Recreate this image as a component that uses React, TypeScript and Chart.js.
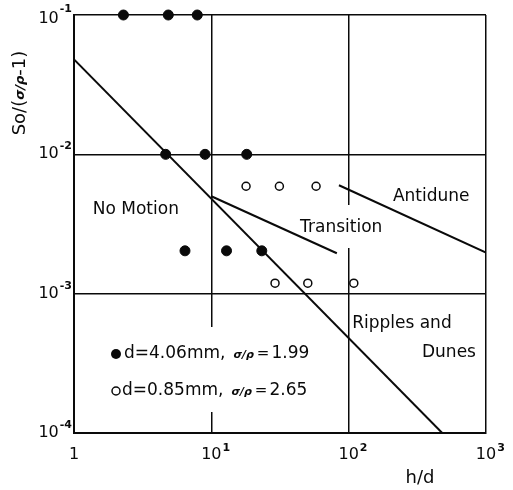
import React, { useEffect, useRef } from "react";
import { Chart, registerables } from "chart.js";

Chart.register(...registerables);

// ---- data ----
const filledX = [2.29, 4.86, 7.9, 4.65, 9.0, 18.1, 6.43, 12.9, 23.3];
const filledY = [0.1, 0.1, 0.1, 0.01, 0.01, 0.01, 0.00203, 0.00203, 0.00203];
const openX = [17.9, 31.3, 57.9, 29.1, 50.4, 109];
const openY = [0.0059, 0.0059, 0.0059, 0.00119, 0.00119, 0.00119];

const noMotionX = [1, 480];
const noMotionY = [0.048, 0.0001];
const transitionX = [10, 82];
const transitionY = [0.005, 0.00195];
const antiduneX = [85, 1000];
const antiduneY = [0.006, 0.00197];

const xTickValues = [1, 10, 100, 1000];
const xTickExps = ["", "1", "2", "3"];
const yTickValues = [0.0001, 0.001, 0.01, 0.1];
const yTickExps = ["-4", "-3", "-2", "-1"];

const regionLabels = ["No Motion", "Transition", "Antidune", "Ripples and", "Dunes"];
const regionLabelX = [1.37, 44.3, 210, 106, 342];
const regionLabelY = [0.004, 0.00296, 0.005, 0.000615, 0.000375];

const legendSeries = ["d=4.06mm,", "d=0.85mm,"];
const legendRatio = ["1.99", "2.65"];

const FONT = '"DejaVu Sans", sans-serif';
const INK = "#0a0a0a";

function pts(xs: number[], ys: number[]) {
  return xs.map((x, i) => ({ x, y: ys[i] }));
}

const paperPlugin = {
  id: "paper",
  beforeDraw(chart: any) {
    const ctx = chart.ctx;
    ctx.save();
    ctx.fillStyle = "#fff";
    ctx.fillRect(0, 0, chart.width, chart.height);
    ctx.restore();
  },
  beforeDatasetsDraw(chart: any) {
    const ctx = chart.ctx;
    const xs = chart.scales.x;
    ctx.save();
    ctx.fillStyle = "#fff";
    const x10 = xs.getPixelForValue(10);
    ctx.fillRect(x10 - 4, 327, 8, 85);
    const x100 = xs.getPixelForValue(100);
    ctx.fillRect(x100 - 4, 205, 8, 43);
    ctx.restore();
  },
  afterDatasetsDraw(chart: any) {
    const ctx = chart.ctx;
    const xs = chart.scales.x;
    const ys = chart.scales.y;
    const area = chart.chartArea;
    ctx.save();
    ctx.fillStyle = INK;
    ctx.textBaseline = "middle";

    // y tick labels
    yTickValues.forEach((v, i) => {
      const py = ys.getPixelForValue(v);
      ctx.font = `bold 11px ${FONT}`;
      const ew = ctx.measureText(yTickExps[i]).width;
      const right = area.left - 2;
      ctx.textAlign = "left";
      ctx.fillText(yTickExps[i], right - ew, py - 8 + (i === 3 ? 2 : 0));
      ctx.font = `16px ${FONT}`;
      ctx.textAlign = "right";
      ctx.fillText("10", right - ew - 1, py + (i === 3 ? 4 : 0));
    });

    // x tick labels
    xTickValues.forEach((v, i) => {
      const px = xs.getPixelForValue(v);
      const py = area.bottom + 22;
      ctx.font = `16px ${FONT}`;
      if (xTickExps[i] === "") {
        ctx.textAlign = "center";
        ctx.fillText("1", px, py);
      } else {
        ctx.textAlign = "center";
        ctx.fillText("10", px, py);
        const w = ctx.measureText("10").width;
        ctx.font = `bold 11px ${FONT}`;
        ctx.textAlign = "left";
        ctx.fillText(xTickExps[i], px + w / 2 + 1, py - 7);
      }
    });

    // x title
    ctx.font = `18px ${FONT}`;
    ctx.textAlign = "center";
    ctx.fillText("h/d", 420, area.bottom + 45);

    // y title (rotated)
    ctx.save();
    ctx.translate(20, 93);
    ctx.rotate(-Math.PI / 2);
    const parts = [
      { t: "So/(", f: `18px ${FONT}`, dy: 0 },
      { t: "σ/ρ", f: `italic bold 13px ${FONT}`, dy: 1 },
      { t: "-1)", f: `18px ${FONT}`, dy: 0 },
    ];
    let total = 0;
    parts.forEach((p) => {
      ctx.font = p.f;
      total += ctx.measureText(p.t).width;
    });
    let cx = -total / 2;
    ctx.textAlign = "left";
    parts.forEach((p) => {
      ctx.font = p.f;
      ctx.fillText(p.t, cx, p.dy);
      cx += ctx.measureText(p.t).width;
    });
    ctx.restore();

    // region labels
    ctx.font = `17px ${FONT}`;
    ctx.textAlign = "left";
    regionLabels.forEach((t, i) => {
      const px = xs.getPixelForValue(regionLabelX[i]);
      const py = ys.getPixelForValue(regionLabelY[i]);
      ctx.fillText(t, px, py);
    });

    // legend
    const rowsY = [354, 391];
    legendSeries.forEach((t, i) => {
      const y = rowsY[i];
      ctx.beginPath();
      if (i === 0) {
        ctx.arc(116, y, 5, 0, Math.PI * 2);
        ctx.fillStyle = INK;
        ctx.fill();
      } else {
        ctx.arc(116, y, 4, 0, Math.PI * 2);
        ctx.strokeStyle = INK;
        ctx.lineWidth = 1.5;
        ctx.stroke();
      }
      ctx.fillStyle = INK;
      let x = i === 0 ? 124 : 122;
      ctx.font = `17px ${FONT}`;
      ctx.fillText(t, x, y);
      x += ctx.measureText(t).width + 8;
      ctx.font = `italic bold 11px ${FONT}`;
      ctx.fillText("σ/ρ", x, y + 1);
      x += ctx.measureText("σ/ρ").width + 3;
      ctx.font = `15px ${FONT}`;
      ctx.fillText("=", x, y);
      x += ctx.measureText("=").width + 2;
      ctx.font = `17px ${FONT}`;
      ctx.fillText(legendRatio[i], x, y);
    });

    ctx.restore();
  },
};

export default function App() {
  const ref = useRef<HTMLCanvasElement | null>(null);
  useEffect(() => {
    document.body.style.margin = "0";
    const canvas = ref.current!;
    const chart = new Chart(canvas, {
      type: "scatter",
      data: {
        datasets: [
          {
            data: pts(noMotionX, noMotionY),
            showLine: true,
            borderColor: INK,
            borderWidth: 2,
            pointRadius: 0,
          },
          {
            data: pts(transitionX, transitionY),
            showLine: true,
            borderColor: INK,
            borderWidth: 2,
            pointRadius: 0,
          },
          {
            data: pts(antiduneX, antiduneY),
            showLine: true,
            borderColor: INK,
            borderWidth: 2,
            pointRadius: 0,
          },
          {
            data: pts(filledX, filledY),
            pointRadius: 5,
            pointBackgroundColor: INK,
            pointBorderColor: INK,
            pointBorderWidth: 1,
            clip: false,
          },
          {
            data: pts(openX, openY),
            pointRadius: 4,
            pointBackgroundColor: "#fff",
            pointBorderColor: INK,
            pointBorderWidth: 1.5,
            clip: false,
          },
        ],
      } as any,
      options: {
        animation: false,
        responsive: false,
        maintainAspectRatio: false,
        events: [],
        layout: { padding: { left: 0, right: 27, top: 15, bottom: 0 } },
        plugins: { legend: { display: false }, tooltip: { enabled: false } },
        scales: {
          x: {
            type: "logarithmic",
            min: 1,
            max: 1000,
            afterBuildTicks: (s: any) => {
              s.ticks = xTickValues.map((v) => ({ value: v }));
            },
            afterFit: (s: any) => {
              s.height = 57;
            },
            ticks: { display: false },
            grid: { color: INK, lineWidth: 1.5, drawTicks: false },
            border: { color: INK, width: 2 },
          },
          y: {
            type: "logarithmic",
            min: 0.0001,
            max: 0.1,
            afterBuildTicks: (s: any) => {
              s.ticks = yTickValues.map((v) => ({ value: v }));
            },
            afterFit: (s: any) => {
              s.width = 74;
            },
            ticks: { display: false },
            grid: { color: INK, lineWidth: 1.5, drawTicks: false },
            border: { color: INK, width: 2 },
          },
        },
      } as any,
      plugins: [paperPlugin],
    });
    return () => chart.destroy();
  }, []);
  return (
    <div style={{ width: 513, height: 490 }}>
      <canvas ref={ref} width={513} height={490} style={{ display: "block" }} />
    </div>
  );
}
